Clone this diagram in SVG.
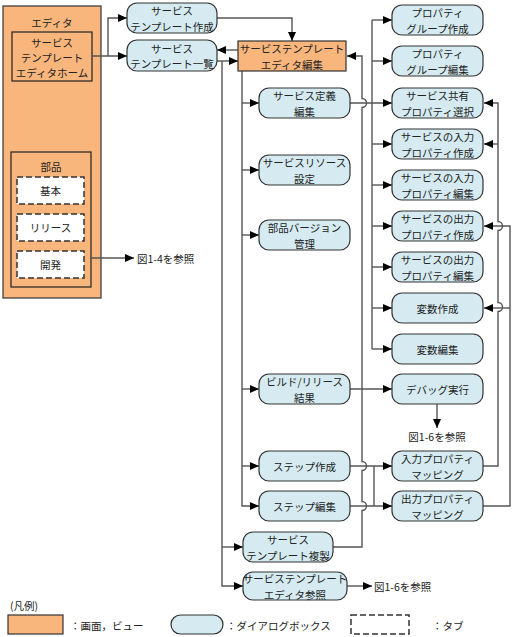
<svg xmlns="http://www.w3.org/2000/svg" width="515" height="637" viewBox="0 0 515 637">
<defs>
<marker id="ar" markerWidth="10" markerHeight="8" refX="9" refY="4" orient="auto" markerUnits="userSpaceOnUse"><path d="M0,0 L9,4 L0,8 z" fill="#000"/></marker>
<style>
text{font-family:"Noto Sans CJK JP","Liberation Sans",sans-serif;font-size:10.5px;fill:#222;text-anchor:middle;dominant-baseline:central}
.l{text-anchor:start}
.scr{fill:#f8b57c;stroke:#333;stroke-width:1.2}
.in{fill:none;stroke:#222;stroke-width:1.2}
.dlg{fill:#d5ebf1;stroke:#333;stroke-width:1.2}
.tab{fill:#fff;stroke:#333;stroke-width:1.5;stroke-dasharray:6 3}
.c{fill:none;stroke:#555;stroke-width:1.4}
.a{marker-end:url(#ar)}
</style>
</defs>
<rect width="515" height="637" fill="#fff"/>

<g id="editor">
<rect class="scr" x="3" y="6" width="98" height="292"/>
<text x="52" y="22">エディタ</text>
</g>
<g id="home">
<rect class="in" x="12" y="32" width="80" height="49"/>
<text y="41.6"><tspan x="52">サービス</tspan><tspan x="52" dy="15.2">テンプレート</tspan><tspan x="52" dy="15.2">エディタホーム</tspan></text>
</g>
<g id="parts">
<rect class="in" x="11" y="152" width="80" height="135"/>
<text x="51" y="166">部品</text>
</g>
<g id="tab-basic"><rect class="tab" x="17" y="177" width="67" height="27"/><text x="50.5" y="190.5">基本</text></g>
<g id="tab-release"><rect class="tab" x="17" y="214" width="67" height="27"/><text x="50.5" y="227.5">リリース</text></g>
<g id="tab-dev"><rect class="tab" x="17" y="251" width="67" height="27"/><text x="50.5" y="264.5">開発</text></g>

<g id="connectors">
<path class="c a" d="M92,56 H127"/>
<path class="c a" d="M108,56 V18 H127"/>
<path class="c a" d="M217,18 H292 V41"/>
<path class="c a" d="M238,50 H217"/>
<path class="c a" d="M217,61 H238"/>
<path class="c a" d="M222,61 V586 H243"/>
<path class="c a" d="M222,547 H243"/>
<path class="c a" d="M242,71 V506 H259"/>
<path class="c a" d="M242,103 H259"/>
<path class="c a" d="M242,170 H259"/>
<path class="c a" d="M242,235 H259"/>
<path class="c a" d="M242,389 H259"/>
<path class="c a" d="M242,466 H259"/>
<path class="c a" d="M333,547 H362 V510.5 A4.5,4.5 0 0 0 362,501.5 V470.5 A4.5,4.5 0 0 0 362,461.5 V107.5 A4.5,4.5 0 0 0 362,98.5 V56 H347"/>
<path class="c a" d="M350,103 H392"/>
<path class="c" d="M372,20 V349"/>
<path class="c a" d="M372,20 H392"/>
<path class="c a" d="M372,61 H392"/>
<path class="c a" d="M372,144 H392"/>
<path class="c a" d="M372,185 H392"/>
<path class="c a" d="M372,226 H392"/>
<path class="c a" d="M372,267 H392"/>
<path class="c a" d="M372,308 H392"/>
<path class="c a" d="M372,349 H392"/>
<path class="c a" d="M350,389 H392"/>
<path class="c a" d="M437,404 V428"/>
<path class="c a" d="M350,466 H392"/>
<path class="c a" d="M350,506 H392"/>
<path class="c" d="M374,466 V506"/>
<path class="c a" d="M483,466 H498 V311.5 A4.5,4.5 0 0 0 498,302.5 V230.5 A4.5,4.5 0 0 0 498,221.5 V103 H484"/>
<path class="c a" d="M498,144 H484"/>
<path class="c a" d="M483,506 H510 V226 H484"/>
<path class="c a" d="M510,308 H484"/>
<path class="c a" d="M91,258 H134"/>
<path class="c a" d="M347,586 H372"/>
</g>

<g id="tpl-create"><rect class="dlg" x="127" y="3" width="90" height="30" rx="10"/><text y="10.4"><tspan x="172">サービス</tspan><tspan x="172" dy="15.2">テンプレート作成</tspan></text></g>
<g id="tpl-list"><rect class="dlg" x="127" y="40" width="90" height="31" rx="10"/><text y="47.9"><tspan x="172">サービス</tspan><tspan x="172" dy="15.2">テンプレート一覧</tspan></text></g>
<g id="tpl-edit"><rect class="scr" x="238" y="41" width="108" height="30"/><text y="48.4"><tspan x="292">サービステンプレート</tspan><tspan x="292" dy="15.2">エディタ編集</tspan></text></g>

<g id="svc-def"><rect class="dlg" x="259" y="88" width="91" height="30" rx="10"/><text y="95.4"><tspan x="304.5">サービス定義</tspan><tspan x="304.5" dy="15.2">編集</tspan></text></g>
<g id="svc-res"><rect class="dlg" x="259" y="155" width="91" height="30" rx="10"/><text y="162.4"><tspan x="304.5">サービスリソース</tspan><tspan x="304.5" dy="15.2">設定</tspan></text></g>
<g id="parts-ver"><rect class="dlg" x="259" y="220" width="91" height="30" rx="10"/><text y="227.4"><tspan x="304.5">部品バージョン</tspan><tspan x="304.5" dy="15.2">管理</tspan></text></g>
<g id="build"><rect class="dlg" x="259" y="374" width="91" height="30" rx="10"/><text y="381.4"><tspan x="304.5">ビルド/リリース</tspan><tspan x="304.5" dy="15.2">結果</tspan></text></g>
<g id="step-create"><rect class="dlg" x="259" y="451" width="91" height="30" rx="10"/><text x="304.5" y="466">ステップ作成</text></g>
<g id="step-edit"><rect class="dlg" x="259" y="491" width="91" height="30" rx="10"/><text x="304.5" y="506">ステップ編集</text></g>
<g id="tpl-copy"><rect class="dlg" x="243" y="532" width="90" height="30" rx="10"/><text y="539.4"><tspan x="288">サービス</tspan><tspan x="288" dy="15.2">テンプレート複製</tspan></text></g>
<g id="tpl-ref"><rect class="dlg" x="243" y="572" width="104" height="28" rx="10"/><text y="578.4"><tspan x="295">サービステンプレート</tspan><tspan x="295" dy="15.2">エディタ参照</tspan></text></g>

<g id="pg-create"><rect class="dlg" x="392" y="5" width="91" height="30" rx="10"/><text y="12.4"><tspan x="437.5">プロパティ</tspan><tspan x="437.5" dy="15.2">グループ作成</tspan></text></g>
<g id="pg-edit"><rect class="dlg" x="392" y="46" width="91" height="30" rx="10"/><text y="53.4"><tspan x="437.5">プロパティ</tspan><tspan x="437.5" dy="15.2">グループ編集</tspan></text></g>
<g id="shared"><rect class="dlg" x="392" y="88" width="91" height="30" rx="10"/><text y="95.4"><tspan x="437.5">サービス共有</tspan><tspan x="437.5" dy="15.2">プロパティ選択</tspan></text></g>
<g id="in-create"><rect class="dlg" x="392" y="129" width="91" height="30" rx="10"/><text y="136.4"><tspan x="437.5">サービスの入力</tspan><tspan x="437.5" dy="15.2">プロパティ作成</tspan></text></g>
<g id="in-edit"><rect class="dlg" x="392" y="170" width="91" height="30" rx="10"/><text y="177.4"><tspan x="437.5">サービスの入力</tspan><tspan x="437.5" dy="15.2">プロパティ編集</tspan></text></g>
<g id="out-create"><rect class="dlg" x="392" y="211" width="91" height="30" rx="10"/><text y="218.4"><tspan x="437.5">サービスの出力</tspan><tspan x="437.5" dy="15.2">プロパティ作成</tspan></text></g>
<g id="out-edit"><rect class="dlg" x="392" y="252" width="91" height="30" rx="10"/><text y="259.4"><tspan x="437.5">サービスの出力</tspan><tspan x="437.5" dy="15.2">プロパティ編集</tspan></text></g>
<g id="var-create"><rect class="dlg" x="392" y="293" width="91" height="30" rx="10"/><text x="437.5" y="308">変数作成</text></g>
<g id="var-edit"><rect class="dlg" x="392" y="334" width="91" height="30" rx="10"/><text x="437.5" y="349">変数編集</text></g>
<g id="debug"><rect class="dlg" x="392" y="374" width="91" height="30" rx="10"/><text x="437.5" y="389">デバッグ実行</text></g>
<g id="in-map"><rect class="dlg" x="392" y="451" width="91" height="30" rx="10"/><text y="458.4"><tspan x="437.5">入力プロパティ</tspan><tspan x="437.5" dy="15.2">マッピング</tspan></text></g>
<g id="out-map"><rect class="dlg" x="392" y="491" width="91" height="30" rx="10"/><text y="498.4"><tspan x="437.5">出力プロパティ</tspan><tspan x="437.5" dy="15.2">マッピング</tspan></text></g>

<g id="refs">
<text class="l" x="137" y="258">図1-4を参照</text>
<text x="437" y="436">図1-6を参照</text>
<text class="l" x="374" y="586">図1-6を参照</text>
</g>

<g id="legend">
<text class="l" x="10" y="605">(凡例)</text>
<rect class="scr" x="8" y="615" width="55" height="19"/>
<text class="l" x="70" y="625">：画面，ビュー</text>
<rect class="dlg" x="171" y="615" width="52" height="19" rx="9.5"/>
<text class="l" x="226" y="625">：ダイアログボックス</text>
<rect class="tab" x="351" y="615" width="58" height="19"/>
<text class="l" x="432" y="625">：タブ</text>
</g>
</svg>
